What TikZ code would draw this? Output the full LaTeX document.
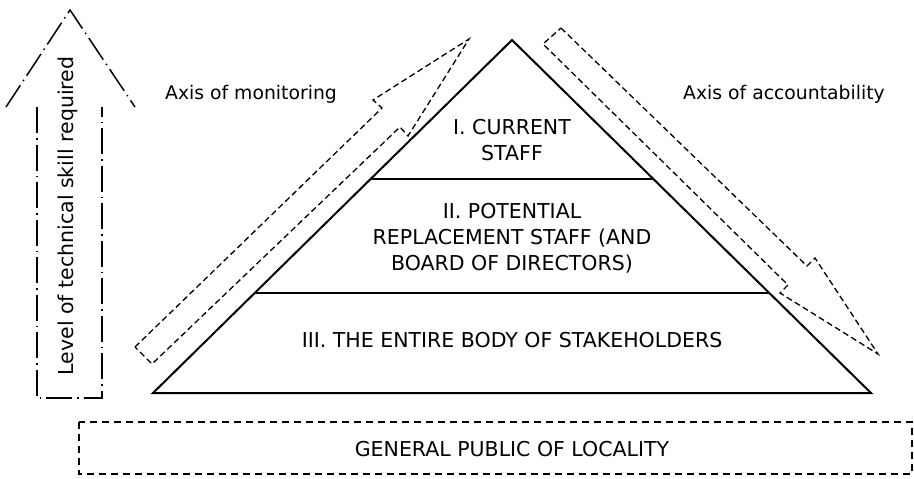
\documentclass[tikz,border=0pt]{standalone}
\usepackage{fontspec}
\setmainfont{DejaVu Sans}
\usetikzlibrary{calc}
\tikzset{every node/.append style={font=\fontsize{20.5}{26}\selectfont, inner sep=0pt}}
\tikzset{
    tier/.style={align=center},
    axislabel/.style={font=\fontsize{18.8}{22}\selectfont},
    axisarrow/.style={line width=1.3pt, dash pattern=on 6pt off 3.5pt},
    skillarrow/.style={line width=1.5pt, dash pattern=on 26pt off 5pt on 1.5pt off 5pt},
    publicline/.style={line width=1.3pt, dash pattern=on 7pt off 5pt}
}

\begin{document}
\begin{tikzpicture}[x=1pt, y=-1pt]
    \useasboundingbox (0,0) rectangle (914,479);
    % pyramid and its three tiers
    \coordinate (top) at (512,40);
    \coordinate (bl) at (153,393);
    \coordinate (br) at (871,393);
    \draw[line width=2pt] (top) -- (br) -- (bl) -- cycle;
    \draw[line width=2pt] ($(top)!0.394!(bl)$) -- ($(top)!0.394!(br)$);
    \draw[line width=2pt] ($(top)!0.716!(bl)$) -- ($(top)!0.716!(br)$);
    \node[tier] (current) at (512,140) {I. CURRENT\\STAFF};
    \node[tier] (replacement) at (512,238) {II. POTENTIAL\\REPLACEMENT STAFF (AND\\BOARD OF DIRECTORS)};
    \node[tier] (stakeholders) at (512,340) {III. THE ENTIRE BODY OF STAKEHOLDERS};
    % monitoring, up the left side
    \draw[axisarrow] (135,347) -- (382,108) -- (373,100) -- (469,39) -- (408,136) -- (400,127) -- (152,364) -- cycle;
    \node[axislabel] (monitoring) at (251,94) {Axis of monitoring};
    % accountability, down the right side
    \draw[axisarrow] (561,28) -- (807,266) -- (815,258) -- (878,354) -- (780,293) -- (788,285) -- (543,44) -- cycle;
    \node[axislabel] (accountability) at (784,94) {Axis of accountability};
    % skill arrow
    \draw[skillarrow] (6,107) -- (70,10) -- (135,107);
    \draw[skillarrow] (37,107) -- (37,398) -- (102,398) -- (102,107);
    \node[rotate=90] (skill) at (68,216) {Level of technical skill required};
    % general public
    \draw[publicline] (79,422) rectangle (912,474);
    \node (public) at (512,449) {GENERAL PUBLIC OF LOCALITY};
\end{tikzpicture}
\end{document}
